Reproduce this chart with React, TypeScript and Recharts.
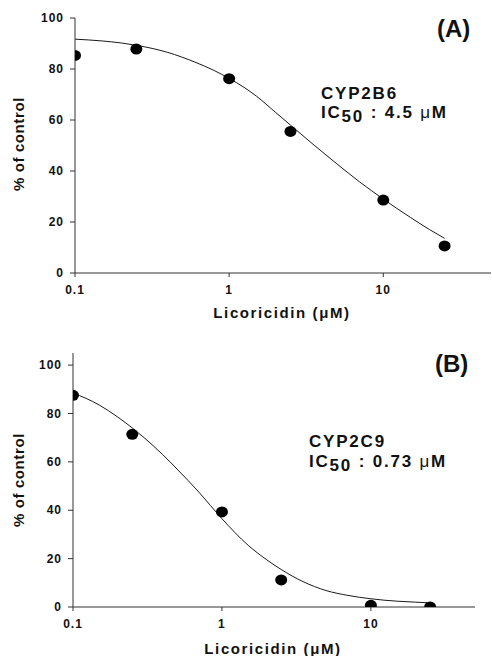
import { ComposedChart, Line, Scatter, XAxis, YAxis } from "recharts";

// measured points (% of control vs licoricidin conc, µM)
const concA = [0.1, 0.25, 1, 2.5, 10, 25];
const pctA = [85.3, 87.8, 76.2, 55.5, 28.6, 10.6];
const concB = [0.1, 0.25, 1, 2.5, 10, 25];
const pctB = [87.5, 71.4, 39.3, 11.2, 0.7, 0];

// fitted curves
const fitXA = [0.1, 0.15, 0.2, 0.25, 0.4, 0.6, 0.8, 1, 1.25, 1.5, 2, 2.5, 3.5, 5, 7, 10, 15, 20, 25];
const fitYA = [91.7, 91, 90.2, 89.3, 86.5, 82.7, 79.4, 76.3, 72.8, 69.4, 63, 58, 50.5, 42.8, 35.8, 29, 21.8, 17, 13.6];
const fitXB = [0.1, 0.15, 0.2, 0.25, 0.3, 0.4, 0.5, 0.7, 1, 1.5, 2, 2.5, 3.5, 5, 7, 10, 15, 20, 25];
const fitYB = [88.5, 83.5, 78.5, 74, 70, 63, 57, 47.5, 36.5, 25.5, 19.5, 15.5, 10.5, 6.8, 4.8, 3.4, 2.4, 2, 1.7];

const xTicks = [0.1, 1, 10];
const yTicks = [0, 20, 40, 60, 80, 100];

const font = "'Liberation Sans', Arial, sans-serif";
const ink = "#111";
const axisInk = "#333";

const zip = (xs: number[], ys: number[]) => xs.map((x, i) => ({ x, y: ys[i] }));

const Dot = (p: any) => <ellipse cx={p.cx} cy={p.cy} rx={6} ry={5.5} fill="#000" />;

type PanelProps = {
  pts: { x: number; y: number }[];
  fit: { x: number; y: number }[];
  yMax: number;
  height: number;
  margin: { top: number; right: number; left: number; bottom: number };
  yWidth: number;
  xHeight: number;
};

function Panel({ pts, fit, yMax, height, margin, yWidth, xHeight }: PanelProps) {
  const tick = { fill: ink, fontSize: 12, fontWeight: 700, fontFamily: font, letterSpacing: 1 };
  return (
    <ComposedChart width={492} height={height} margin={margin}>
      <XAxis
        dataKey="x"
        type="number"
        scale="log"
        domain={[0.1, 50]}
        ticks={xTicks}
        allowDataOverflow
        height={xHeight}
        tick={tick}
        tickSize={4}
        tickMargin={8}
        stroke={axisInk}
      />
      <YAxis
        type="number"
        domain={[0, yMax]}
        ticks={yTicks}
        allowDataOverflow
        width={yWidth}
        tick={tick}
        tickSize={5}
        tickMargin={6}
        stroke={axisInk}
      />
      <Line
        data={fit}
        dataKey="y"
        type="monotone"
        stroke="#1a1a1a"
        strokeWidth={1}
        dot={false}
        isAnimationActive={false}
      />
      <Scatter data={pts} dataKey="y" shape={Dot} isAnimationActive={false} />
    </ComposedChart>
  );
}

export default function App() {
  const title = { fontFamily: font, fontWeight: 700, fill: ink } as const;
  return (
    <div style={{ position: "fixed", left: 0, top: 0, width: 492, height: 656, background: "#fff", overflow: "hidden" }}>
      <div style={{ position: "absolute", left: 0, top: 0 }}>
        <Panel
          pts={zip(concA, pctA)}
          fit={zip(fitXA, fitYA)}
          yMax={100}
          height={330}
          margin={{ top: 18, right: 1, left: 0, bottom: 7 }}
          yWidth={75}
          xHeight={50}
        />
      </div>
      <div style={{ position: "absolute", left: 0, top: 330 }}>
        <Panel
          pts={zip(concB, pctB)}
          fit={zip(fitXB, fitYB)}
          yMax={105}
          height={326}
          margin={{ top: 23, right: 17, left: 0, bottom: 4 }}
          yWidth={73}
          xHeight={45}
        />
      </div>
      <svg width={492} height={656} style={{ position: "absolute", left: 0, top: 0, pointerEvents: "none" }}>
        {/* panel A */}
        <text x={24} y={144} transform="rotate(-90 24 144)" textAnchor="middle" fontSize={15} letterSpacing={0.6} {...title}>
          % of control
        </text>
        <text x={282} y={318} textAnchor="middle" fontSize={15} letterSpacing={1.6} {...title}>
          Licoricidin (μM)
        </text>
        <text x={437} y={37} fontSize={24} {...title}>(A)</text>
        <text x={321} y={99} fontSize={17} letterSpacing={1.8} {...title}>CYP2B6</text>
        <text x={321} y={118} fontSize={17} letterSpacing={1.8} {...title}>
          IC<tspan dy={4}>50</tspan><tspan dy={-4}> : 4.5 </tspan><tspan fontWeight={400}>μ</tspan>M
        </text>

        {/* panel B */}
        <text x={24} y={480} transform="rotate(-90 24 480)" textAnchor="middle" fontSize={15} letterSpacing={0.6} {...title}>
          % of control
        </text>
        <text x={273} y={654} textAnchor="middle" fontSize={15} letterSpacing={1.6} {...title}>
          Licoricidin (μM)
        </text>
        <text x={435} y={372} fontSize={24} {...title}>(B)</text>
        <text x={309} y={447} fontSize={17} letterSpacing={1.8} {...title}>CYP2C9</text>
        <text x={309} y={467} fontSize={17} letterSpacing={1.8} {...title}>
          IC<tspan dy={4}>50</tspan><tspan dy={-4}> : 0.73 </tspan><tspan fontWeight={400}>μ</tspan>M
        </text>
      </svg>
    </div>
  );
}
